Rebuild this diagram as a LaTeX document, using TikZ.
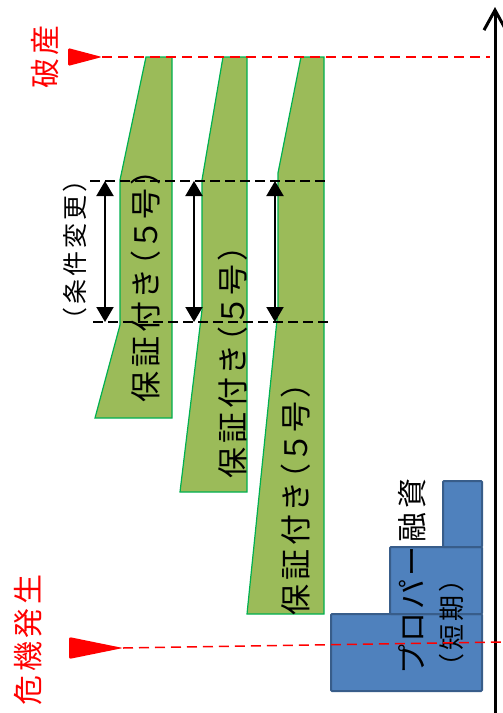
\documentclass[tikz,border=0pt]{standalone}
\usepackage{fontspec}
\setmainfont{Noto Sans CJK JP}
\newfontfamily\jpfont[RawFeature=+palt, LetterSpace=13]{Noto Sans CJK JP}
\usetikzlibrary{arrows.meta}

\definecolor{loangreen}{HTML}{9BBB59}
\definecolor{loanedge}{HTML}{00B050}
\definecolor{properblue}{HTML}{4F81BD}
\definecolor{properedge}{HTML}{385D8A}

\tikzset{
  loanshape/.style={fill=loangreen, draw=loanedge, line width=1.2pt},
  propershape/.style={fill=properblue, draw=properedge, line width=2pt, rounded corners=1pt},
  reddash/.style={red, line width=1.5pt, dash pattern=on 10pt off 6pt},
  blackdash/.style={black, line width=1.5pt, dash pattern=on 10pt off 5pt},
  changearrow/.style={{Triangle[length=15pt,width=17pt]}-{Triangle[length=15pt,width=17pt]}, line width=2pt},
  vtext/.style={rotate=90, inner sep=0pt}
}

\begin{document}
\begin{tikzpicture}[x=1pt, y=-1pt]
        \useasboundingbox (0,0) rectangle (503,713);

        % 保証付き融資
        \draw[loanshape] (146,57) -- (172,57) -- (172,418) -- (95,418) -- (120,325) -- (120,180) -- cycle;
        \draw[loanshape] (223,57) -- (247,57) -- (247,492) -- (180,492) -- (202,310) -- (202,180) -- cycle;
        \draw[loanshape] (301,57) -- (324,57) -- (324,614) -- (247,614) -- (278,310) -- (278,173) -- cycle;
        \node[vtext, font=\jpfont\fontsize{31}{31}\selectfont] (g1) at (146,286) {保証付き（５号）};
        \node[vtext, font=\jpfont\fontsize{31}{31}\selectfont] (g2) at (233,362) {保証付き（５号）};
        \node[vtext, font=\jpfont\fontsize{31}{31}\selectfont] (g3) at (296,499) {保証付き（５号）};

        % プロパー融資
        \draw[propershape] (331,614) rectangle (482,691);
        \draw[propershape] (390,547) rectangle (482,614);
        \draw[propershape] (443,481) rectangle (482,547);
        \node[vtext, font=\jpfont\fontsize{30}{30}\selectfont] (proper1) at (412,576) {プロパー融資};
        \node[vtext, font=\jpfont\fontsize{26}{26}\selectfont] (proper2) at (452,623) {（短期）};

        % 条件変更
        \coordinate (chgtopL) at (90,181);
        \coordinate (chgtopR) at (328,181);
        \coordinate (chgbotL) at (93,322);
        \coordinate (chgbotR) at (332,322);
        \draw[blackdash] (chgtopL) -- (chgtopR);
        \draw[blackdash] (chgbotL) -- (chgbotR);
        \coordinate (top1) at (105,181);
        \coordinate (bot1) at (105,322);
        \coordinate (top2) at (194,181);
        \coordinate (bot2) at (194,322);
        \coordinate (top3) at (275,181);
        \coordinate (bot3) at (275,322);
        \draw[changearrow] (top1) -- (bot1);
        \draw[changearrow] (top2) -- (bot2);
        \draw[changearrow] (top3) -- (bot3);
        \node[vtext, font=\jpfont\fontsize{25}{25}\selectfont] (change) at (75,250) {（条件変更）};

        % 時間軸
        \coordinate (axisbot) at (495,713);
        \coordinate (axistop) at (495,7);
        \draw[-{Straight Barb[length=20pt,width=22pt]}, line width=3pt] (axisbot) -- (axistop);

        % 破産
        \coordinate (bankrupttip) at (102,57);
        \coordinate (bankruptend) at (490,57);
        \fill[red, rounded corners=1.5pt] (68,48) -- (bankrupttip) -- (68,66) -- cycle;
        \draw[reddash] (bankrupttip) -- (bankruptend);
        \node[vtext, red, font=\jpfont\fontsize{30}{30}\selectfont] (bankrupt) at (45,57) {破産};

        % 危機発生
        \coordinate (crisistip) at (123,648);
        \coordinate (crisisend) at (503,642);
        \fill[red, rounded corners=2pt] (69,637) -- (crisistip) -- (69,659) -- cycle;
        \draw[reddash] (crisistip) -- (crisisend);
        \node[vtext, red, font=\jpfont\fontsize{30}{30}\selectfont] (crisis) at (28,640) {危機発生};
    \end{tikzpicture}
\end{document}
